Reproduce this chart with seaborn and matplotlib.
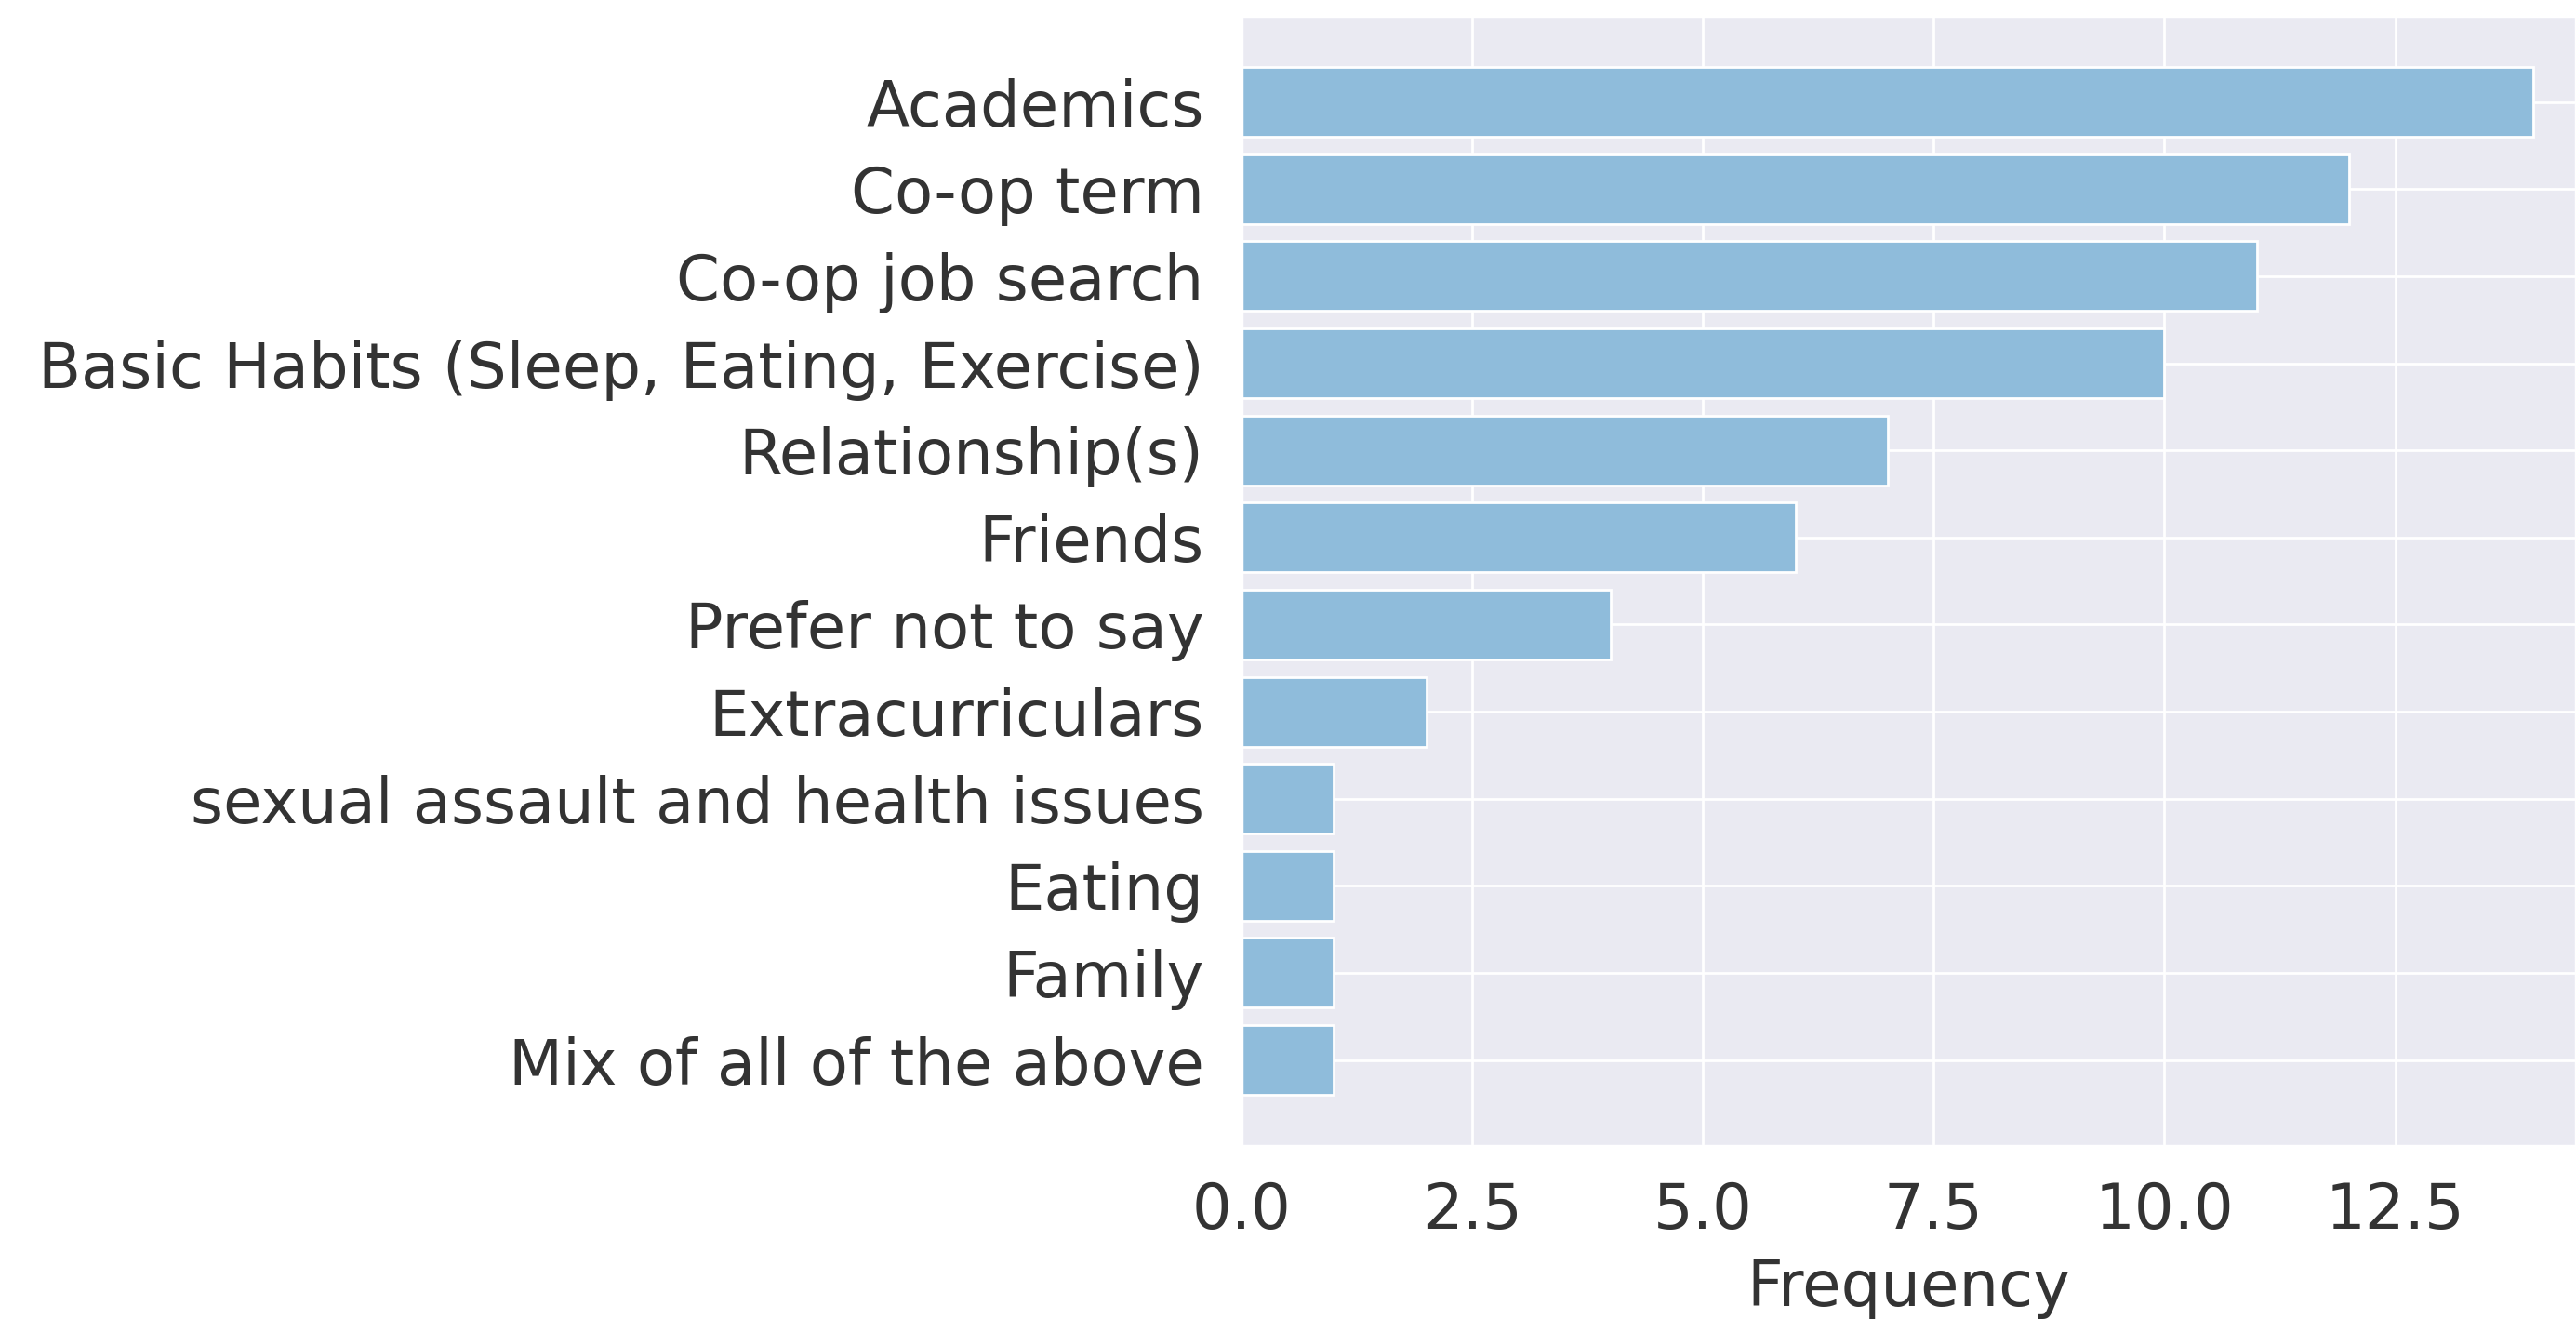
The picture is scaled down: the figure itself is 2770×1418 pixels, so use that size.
import matplotlib
matplotlib.use("Agg")
import matplotlib.pyplot as plt
import seaborn as sns

# top to bottom, as in the chart
categories = [
    "Academics",
    "Co-op term",
    "Co-op job search",
    "Basic Habits (Sleep, Eating, Exercise)",
    "Relationship(s)",
    "Friends",
    "Prefer not to say",
    "Extracurriculars",
    "sexual assault and health issues",
    "Eating",
    "Family",
    "Mix of all of the above",
]
frequency = [14, 12, 11, 10, 7, 6, 4, 2, 1, 1, 1, 1]

sns.set_theme(style="darkgrid")
plt.rcParams["font.family"] = ["DejaVu Sans"]

fig = plt.figure(figsize=(13.85, 7.09), dpi=200)
ax = fig.add_axes([0.482, 0.131, 0.518, 0.857])

ax.barh(categories, frequency, height=0.8, color="#8fbcdb",
        edgecolor="white", linewidth=1.0)
ax.invert_yaxis()
ax.set_xlim(0, 14.46)

ax.set_xlabel("Frequency", fontsize=24.2, labelpad=6, color="#333333")
ax.tick_params(axis="y", labelsize=24.2, pad=8.6, labelcolor="#333333")
ax.tick_params(axis="x", labelsize=24.2, pad=7.2, labelcolor="#333333")
ax.set_xticks([0, 2.5, 5, 7.5, 10, 12.5])
ax.set_xticklabels(["0.0", "2.5", "5.0", "7.5", "10.0", "12.5"])

fig.savefig("out.png", dpi=200)
